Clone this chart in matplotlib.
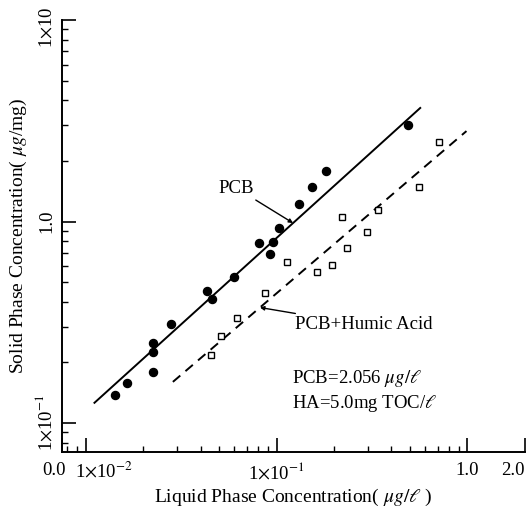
import numpy as np
import matplotlib
matplotlib.use("Agg")
import matplotlib.pyplot as plt
import matplotlib.transforms as mtransforms
from matplotlib.ticker import LogLocator, NullFormatter

plt.rcParams['font.family'] = ['Liberation Serif', 'DejaVu Serif']
plt.rcParams['mathtext.fontset'] = 'stix'

# PCB alone (filled circles)
pcb_x = [0.0142, 0.0164, 0.0225, 0.0225, 0.0225, 0.0279, 0.0431, 0.0458, 0.0598,
         0.0809, 0.0959, 0.0925, 0.1031, 0.1312, 0.1536, 0.1819, 0.4898]
pcb_y = [0.138, 0.158, 0.179, 0.225, 0.249, 0.310, 0.452, 0.412, 0.531,
         0.782, 0.791, 0.690, 0.929, 1.221, 1.483, 1.781, 3.01]

# PCB + humic acid (open squares)
ha_x = [0.0453, 0.0511, 0.0621, 0.0871, 0.1135, 0.1633, 0.1955, 0.2208, 0.2345,
        0.2985, 0.341, 0.560, 0.713]
ha_y = [0.218, 0.270, 0.332, 0.442, 0.630, 0.561, 0.608, 1.053, 0.739,
        0.887, 1.140, 1.483, 2.481]

# fitted isotherm lines (end points)
pcb_fit_x = [0.0111, 0.566]
pcb_fit_y = [0.126, 3.66]
ha_fit_x = [0.0286, 0.989]
ha_fit_y = [0.160, 2.81]

x_ticks = [0.0075, 0.01, 0.1, 1.0, 2.0]
x_ticklabels = ['0.0', r'1$\times$10$^{-2}$', r'1$\times$10$^{-1}$', '1.0', '2.0']
y_ticks = [0.1, 1.0, 10.0]
y_ticklabels = [r'1$\times$10$^{-1}$', '1.0', r'1$\times$10']


def on_line(xs, ys, x):
    # point on a straight log-log line
    lx, ly = np.log10(xs), np.log10(ys)
    return 10 ** np.interp(np.log10(x), lx, ly)


fig = plt.figure(figsize=(5.32, 5.18), dpi=100)
ax = fig.add_axes([0.1165, 0.1274, 0.870, 0.834])
ax.set_xscale('log')
ax.set_yscale('log')
ax.set_xlim(0.0075, 2.0)
ax.set_ylim(0.0718, 10.0)

ax.plot(pcb_fit_x, pcb_fit_y, '-', color='black', lw=1.4)
ax.plot(ha_fit_x, ha_fit_y, '--', color='black', lw=1.4, dashes=(5, 3.5))
ax.plot(pcb_x, pcb_y, 'o', color='black', ms=5.8, mec='black')
ax.plot(ha_x, ha_y, 's', mfc='white', mec='black', ms=4.2, mew=1.0)

for s in ['top', 'right']:
    ax.spines[s].set_visible(False)
for s in ['left', 'bottom']:
    ax.spines[s].set_linewidth(1.4)

ax.xaxis.set_major_locator(matplotlib.ticker.FixedLocator(x_ticks))
ax.set_xticklabels(x_ticklabels)
ax.xaxis.set_minor_locator(LogLocator(base=10, subs=np.arange(2, 10)))
ax.xaxis.set_minor_formatter(NullFormatter())
ax.yaxis.set_major_locator(matplotlib.ticker.FixedLocator(y_ticks))
ax.set_yticklabels(y_ticklabels, rotation=90, va='center')
ax.yaxis.set_minor_locator(LogLocator(base=10, subs=np.arange(2, 10)))
ax.yaxis.set_minor_formatter(NullFormatter())
ax.tick_params(which='major', direction='in', length=10, width=1.2, labelsize=13.5, pad=5)
ax.tick_params(which='minor', direction='in', length=4.5, width=1.0)
ax.tick_params(axis='x', which='major', pad=7)

# nudge a few tick labels as in the original
shifts = {0: -8, 1: 18, 4: -12}
for i, lab in enumerate(ax.get_xticklabels()):
    if i in shifts:
        off = mtransforms.ScaledTranslation(shifts[i] / 100, 0, fig.dpi_scale_trans)
        lab.set_transform(lab.get_transform() + off)
top_lab = ax.get_yticklabels()[2]
top_lab.set_transform(top_lab.get_transform()
                      + mtransforms.ScaledTranslation(0, -0.07, fig.dpi_scale_trans))

ax.set_xlabel(r'Liquid Phase Concentration( $\mu g/\ell$ )', fontsize=14, labelpad=3)
ax.set_ylabel(r'Solid Phase Concentration( $\mu g$/mg)', fontsize=14, labelpad=4)

arrow = dict(arrowstyle='-|>', color='black', lw=1.0, mutation_scale=6,
             shrinkA=1, shrinkB=0)
tip = 0.122
ax.annotate('PCB', xy=(tip, on_line(pcb_fit_x, pcb_fit_y, tip)),
            xytext=(0.415, 0.611), textcoords='axes fraction',
            ha='right', va='center', fontsize=13.5, arrowprops=arrow)
tip = 0.0818
ax.annotate('PCB+Humic Acid', xy=(tip, on_line(ha_fit_x, ha_fit_y, tip)),
            xytext=(0.503, 0.294), textcoords='axes fraction',
            ha='left', va='center', fontsize=13.5, arrowprops=arrow)

ax.text(0.497, 0.169, r'PCB=2.056 $\mu g/\ell$', transform=ax.transAxes,
        ha='left', va='center', fontsize=13.5)
ax.text(0.497, 0.113, r'HA=5.0mg TOC/$\ell$', transform=ax.transAxes,
        ha='left', va='center', fontsize=13.5)

fig.savefig('out.png', dpi=100)
